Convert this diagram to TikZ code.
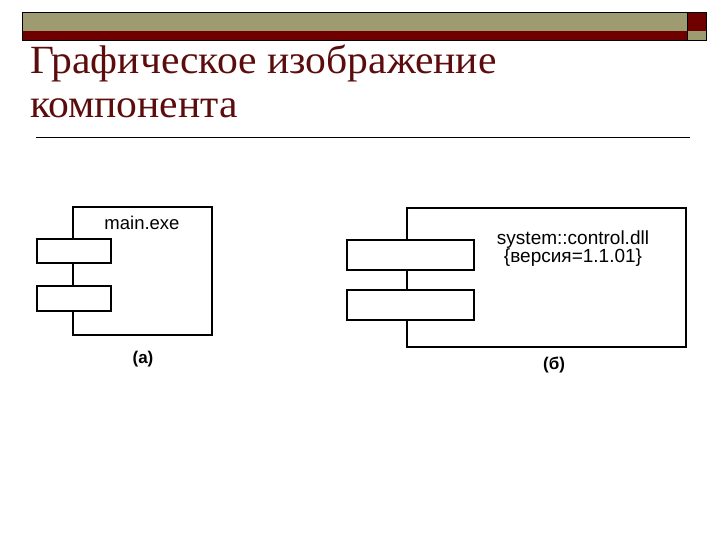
\documentclass[tikz,border=0pt]{standalone}
\usepackage{graphicx}
\usepackage{fontspec}
\setmainfont{Liberation Serif}
\newfontfamily\diagfont{Liberation Sans}
\definecolor{olivebar}{RGB}{158,155,112}
\definecolor{darkbar}{RGB}{110,0,0}
\definecolor{titlered}{RGB}{92,12,12}
\begin{document}
\begin{tikzpicture}[x=1pt,y=-1pt,
  bodybox/.style={draw=black,line width=1.6pt,fill=white},
  portbox/.style={draw=black,line width=1.6pt,fill=white},
  lbl/.style={font=\diagfont\fontsize{18.5}{18}\selectfont,text=black,inner sep=0pt,align=center},
  captxt/.style={font=\diagfont\bfseries\fontsize{17}{18}\selectfont,text=black,inner sep=0pt},
  ttl/.style={font=\fontsize{40}{44}\selectfont,text=titlered,inner sep=0pt,anchor=base west}]
\useasboundingbox (0,0) rectangle (720,540);
% header bars
\fill[olivebar] (22,12) rectangle (687,31);
\fill[darkbar] (22,31) rectangle (687,40);
\fill[darkbar] (687,12) rectangle (706,31);
\fill[olivebar] (687,31) rectangle (706,40);
\draw[black,line width=0.6pt] (22,12) rectangle (687,40);
\draw[black,line width=0.6pt] (687,12) rectangle (706,40);
% title
\node[ttl] (t1) at (30,74) {\scalebox{1.04}[1]{Графическое изображение}};
\node[ttl] (t2) at (30,118) {\scalebox{1.04}[1]{компонента}};
\draw[black,line width=0.8pt] (36,137) -- (690,137);
% (a)
\draw[bodybox] (73,207) rectangle (212,335);
\node[portbox,minimum width=74pt,minimum height=24pt,inner sep=0pt] (a1) at (74,251) {};
\node[portbox,minimum width=74pt,minimum height=25pt,inner sep=0pt] (a2) at (74,298.5) {};
\node[lbl] (an) at (142,223) {main.exe};
\node[captxt] (ac) at (143,359) {(a)};
% (b)
\draw[bodybox] (407,208) rectangle (686,347);
\node[portbox,minimum width=127pt,minimum height=30pt,inner sep=0pt] (b1) at (410.5,255) {};
\node[portbox,minimum width=127pt,minimum height=30pt,inner sep=0pt] (b2) at (410.5,305) {};
\node[lbl,font=\diagfont\fontsize{19}{18}\selectfont] (bn) at (573,249) {system::control.dll\\\{версия=1.1.01\}};
\node[captxt] (bc) at (554,365) {(б)};
\end{tikzpicture}
\end{document}
